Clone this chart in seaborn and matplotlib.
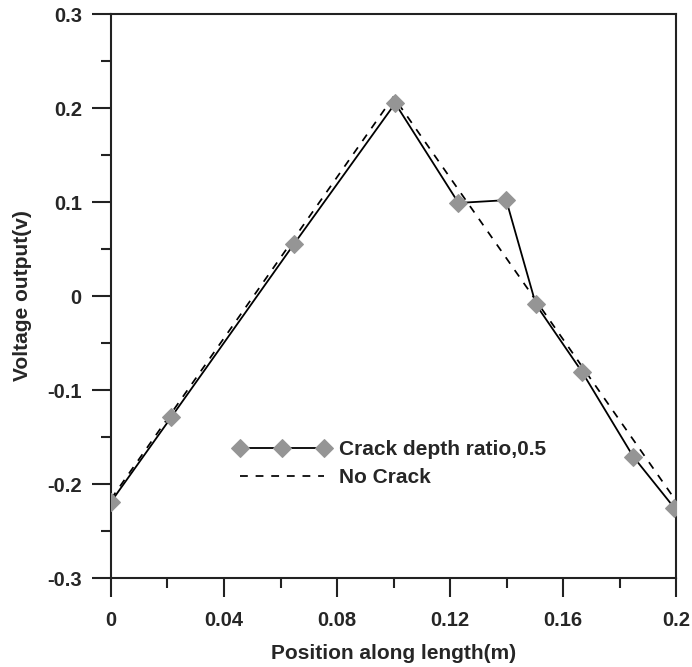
import matplotlib
matplotlib.use("Agg")
import matplotlib.pyplot as plt
from matplotlib.ticker import MultipleLocator
import seaborn as sns
import pandas as pd

# Voltage output along the beam, cracked (depth ratio 0.5) vs. intact
position_crack = [0.0, 0.0213, 0.0647, 0.1006, 0.1230, 0.1399, 0.1504, 0.1668, 0.1849, 0.1993]
voltage_crack = [-0.219, -0.129, 0.055, 0.205, 0.099, 0.102, -0.009, -0.081, -0.171, -0.225]

position_intact = [0.0, 0.1, 0.2]
voltage_intact = [-0.216, 0.212, -0.218]

label_crack = "Crack depth ratio,0.5"
label_intact = "No Crack"

x_ticks = [0, 0.04, 0.08, 0.12, 0.16, 0.2]
x_tick_labels = ["0", "0.04", "0.08", "0.12", "0.16", "0.2"]
y_ticks = [-0.3, -0.2, -0.1, 0, 0.1, 0.2, 0.3]
y_tick_labels = ["-0.3", "-0.2", "-0.1", "0", "0.1", "0.2", "0.3"]

df_crack = pd.DataFrame({"x": position_crack, "y": voltage_crack})
df_intact = pd.DataFrame({"x": position_intact, "y": voltage_intact})

sns.set_style("ticks")
plt.rcParams["font.family"] = ["Liberation Sans", "DejaVu Sans"]
plt.rcParams["font.weight"] = "bold"

fig = plt.figure(figsize=(6.92, 6.67), dpi=100)
ax = fig.add_axes([0.1604, 0.1334, 0.8165, 0.8456])

gray = "#959595"
sns.lineplot(data=df_intact, x="x", y="y", ax=ax, color="black",
             linestyle=(0, (4.5, 4.5)), linewidth=1.25, label=label_intact, zorder=2)
sns.lineplot(data=df_crack, x="x", y="y", ax=ax, color="black", linewidth=1.3,
             marker="D", markersize=9, markerfacecolor=gray, markeredgecolor=gray,
             label=label_crack, zorder=3)

ax.set_xlim(0, 0.2)
ax.set_ylim(-0.3, 0.3)
ax.set_xticks(x_ticks)
ax.set_xticklabels(x_tick_labels)
ax.set_yticks(y_ticks)
ax.set_yticklabels(y_tick_labels)
ax.xaxis.set_minor_locator(MultipleLocator(0.02))
ax.yaxis.set_minor_locator(MultipleLocator(0.05))

for side in ["left", "right", "top", "bottom"]:
    ax.spines[side].set_visible(True)
    ax.spines[side].set_linewidth(1.5)
    ax.spines[side].set_color("#222222")

ax.tick_params(which="major", direction="out", length=13.5, width=1.5,
               labelsize=14.5, color="#222222")
ax.tick_params(which="minor", direction="out", length=7, width=1.5, color="#222222")
ax.tick_params(axis="x", which="major", pad=10)
ax.tick_params(axis="y", which="major", pad=7.5)
ax.tick_params(top=False, right=False, which="both")
for lbl in ax.get_xticklabels() + ax.get_yticklabels():
    lbl.set_fontweight("bold")

ax.set_xlabel("Position along length(m)", fontsize=15, fontweight="bold", labelpad=10)
ax.set_ylabel("Voltage output(v)", fontsize=15, fontweight="bold", labelpad=11)

handles, labels = ax.get_legend_handles_labels()
order = [labels.index(label_crack), labels.index(label_intact)]
ax.legend([handles[i] for i in order], [labels[i] for i in order],
          loc="upper left", bbox_to_anchor=(0.218, 0.245), frameon=False,
          numpoints=3, handlelength=4.6, handletextpad=0.45, borderpad=0,
          borderaxespad=0, labelspacing=0.45,
          prop={"size": 15, "weight": "bold"})

fig.savefig("out.png", dpi=100)
